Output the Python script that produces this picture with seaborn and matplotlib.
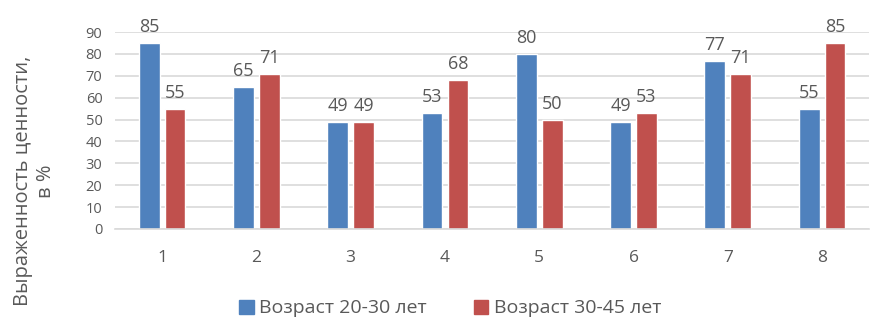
import numpy as np
import pandas as pd
import matplotlib.pyplot as plt
import seaborn as sns

# ── data ──────────────────────────────────────────────────────────────────────
categories = ["1", "2", "3", "4", "5", "6", "7", "8"]
age_20_30 = [85, 65, 49, 53, 80, 49, 77, 55]
age_30_45 = [55, 71, 49, 68, 50, 53, 71, 85]
series_names = ["Возраст 20-30 лет", "Возраст 30-45 лет"]
colors = ["#4F81BD", "#C0504D"]

df = pd.DataFrame({
    "cat": categories * 2,
    "value": age_20_30 + age_30_45,
    "group": [series_names[0]] * len(categories) + [series_names[1]] * len(categories),
})

# ── style ─────────────────────────────────────────────────────────────────────
sns.set_style("white")
plt.rcParams["font.family"] = ["Open Sans", "DejaVu Sans"]
text_color = "#595959"
grid_color = "#D9D9D9"

fig = plt.figure(figsize=(8.71, 3.18), dpi=100)
ax = fig.add_axes([0.132, 0.280, 0.866, 0.619])

sns.barplot(data=df, x="cat", y="value", hue="group", palette=colors,
            width=0.55, gap=0.2, saturation=1, ax=ax, legend=False)

for c in ax.containers:
    ax.bar_label(c, padding=5, fontsize=13, color=text_color, clip_on=False)

ax.set_ylim(0, 90)
ax.set_xlim(-0.5, 7.5)
ax.set_yticks(range(0, 91, 10))
ax.yaxis.grid(True, color=grid_color, linewidth=1.2)
ax.set_axisbelow(True)
for s in ["top", "right", "left"]:
    ax.spines[s].set_visible(False)
ax.spines["bottom"].set_color(grid_color)
ax.spines["bottom"].set_linewidth(1.2)
ax.tick_params(axis="x", length=0, pad=15, labelsize=12.5, labelcolor=text_color)
ax.tick_params(axis="y", length=0, pad=9, labelsize=10.5, labelcolor=text_color)
ax.set_xlabel("")
ax.set_ylabel("")

fig.text(0.040, 0.43, "Выраженность ценности,\nв %", rotation=90,
         ha="center", va="center", fontsize=14.5, color=text_color,
         multialignment="center")

handles = [plt.Rectangle((0, 0), 1, 1, color=c) for c in colors]
fig.legend(handles, series_names, loc="center", bbox_to_anchor=(0.517, 0.03),
           ncol=2, frameon=False, fontsize=14, labelcolor=text_color,
           handlelength=0.75, handleheight=0.75, handletextpad=0.3, columnspacing=2.4)

fig.savefig("out.png", dpi=100)
plt.close()
